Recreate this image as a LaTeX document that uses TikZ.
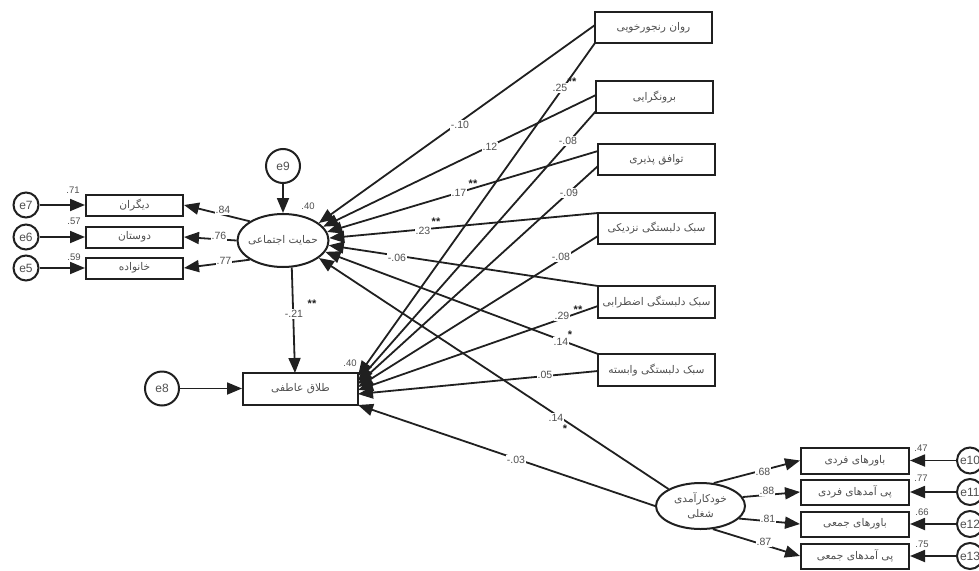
\documentclass[tikz,border=0pt]{standalone}
\usepackage{fontspec}
\setmainfont{Liberation Sans}
\newfontfamily\arfont[Script=Arabic]{DejaVu Sans}
\TeXXeTstate=1
\usetikzlibrary{arrows.meta,shapes.geometric}
\newcommand{\fa}[1]{{\arfont\beginR #1\endR}}
\definecolor{ink}{HTML}{202020}
\definecolor{lab}{HTML}{505050}
\tikzset{
  box/.style={draw=ink,line width=2pt,fill=white,inner sep=0pt,font=\fontsize{10.6}{11}\selectfont,text=lab},
  lv/.style={ellipse,draw=ink,line width=2pt,fill=white,inner sep=0pt,align=center,font=\fontsize{10.6}{15}\selectfont,text=lab},
  err/.style={circle,draw=ink,line width=2pt,fill=white,inner sep=0pt,font=\fontsize{12}{12}\selectfont,text=lab},
  con/.style={draw=ink,line width=1.8pt,-{Triangle[length=15pt,width=12pt]}},
  coef/.style={fill=white,inner sep=1pt,font=\fontsize{10.5}{11}\selectfont,text=lab},
  note/.style={inner sep=0pt,font=\fontsize{9.5}{10}\selectfont,text=lab},
  star/.style={inner sep=0pt,font=\bfseries\fontsize{11}{10}\selectfont,text=ink}
}
\begin{document}
\begin{tikzpicture}[x=1pt,y=-1pt]
\useasboundingbox[fill=white] (0,0) rectangle (979,570);
% nodes
\node[err,minimum size=25pt] (e7) at (26,205) {e7};
\node[err,minimum size=25pt] (e6) at (26,237) {e6};
\node[err,minimum size=25pt] (e5) at (26,268) {e5};
\node[err,minimum size=34pt] (e9) at (283,166) {e9};
\node[err,minimum size=34pt] (e8) at (162,388.5) {e8};
\node[box,minimum width=97pt,minimum height=21pt] (m1) at (134.5,205) {\fa{دیگران}};
\node[box,minimum width=97pt,minimum height=21pt] (m2) at (134.5,237) {\fa{دوستان}};
\node[box,minimum width=97pt,minimum height=21pt] (m3) at (134.5,268) {\fa{خانواده}};
\node[lv,inner xsep=-6pt,minimum width=91pt,minimum height=53pt] (sup) at (283,240.5) {\fa{حمایت اجتماعی}};
\node[box,minimum width=115pt,minimum height=32pt] (div) at (300.5,388.5) {\fa{طلاق عاطفی}};
\node[box,minimum width=117pt,minimum height=31pt] (r1) at (653.5,27.5) {\fa{روان رنجورخویی}};
\node[box,minimum width=117pt,minimum height=32pt] (r2) at (654.5,97) {\fa{برونگرایی}};
\node[box,minimum width=117pt,minimum height=31pt] (r3) at (656.5,159.5) {\fa{توافق پذیری}};
\node[box,minimum width=117pt,minimum height=31pt] (r4) at (656.5,228.5) {\fa{سبک دلبستگی نزدیکی}};
\node[box,minimum width=117pt,minimum height=32pt] (r5) at (656.5,302) {\fa{سبک دلبستگی اضطرابی}};
\node[box,minimum width=117pt,minimum height=32pt] (r6) at (656.5,370) {\fa{سبک دلبستگی وابسته}};
\node[lv,inner xsep=-4pt,minimum width=89pt,minimum height=46pt] (eff) at (700.5,506) {\fa{خودکارآمدی}\\\fa{شغلی}};
\node[box,minimum width=108pt,minimum height=26pt] (b1) at (855,460.5) {\fa{باورهای فردی}};
\node[box,minimum width=108pt,minimum height=25pt] (b2) at (855,492) {\fa{پی آمدهای فردی}};
\node[box,minimum width=108pt,minimum height=25pt] (b3) at (855,524) {\fa{باورهای جمعی}};
\node[box,minimum width=108pt,minimum height=25pt] (b4) at (855,556) {\fa{پی آمدهای جمعی}};
\node[err,minimum size=26pt] (e10) at (970,460.5) {e10};
\node[err,minimum size=26pt] (e11) at (970,492) {e11};
\node[err,minimum size=26pt] (e12) at (970,524) {e12};
\node[err,minimum size=26pt] (e13) at (970,556) {e13};
% arrow targets and starts
\coordinate (t1) at (358,376);
\coordinate (t2) at (358,381);
\coordinate (t3) at (358,384);
\coordinate (t4) at (358,387);
\coordinate (t5) at (358,390);
\coordinate (t6) at (358,394);
\coordinate (t7) at (358,405);
\coordinate (s1) at (595,43);
\coordinate (s2) at (596,111);
\coordinate (s3) at (598,166);
\coordinate (s4) at (598,236);
\coordinate (s5) at (598,306);
\coordinate (s6) at (598,371);
\coordinate (u1) at (595,25);
\coordinate (u2) at (596,95);
\coordinate (u3) at (598,151);
\coordinate (u4) at (598,213);
\coordinate (u5) at (598,286);
\coordinate (u6) at (598,354);
\coordinate (d1) at (295,373);
% connectors
\draw[con] (e7) -- (m1);
\draw[con] (e6) -- (m2);
\draw[con] (e5) -- (m3);
\draw[con] (e9) -- (sup);
\draw[con] (e8) -- (div);
\draw[con] (sup.150) -- (m1.east);
\draw[con] (sup.west) -- (m2.east);
\draw[con] (sup.210) -- (m3.east);
\draw[con] (sup.-72) -- (d1);
\draw[con] (u1) -- (sup.26);
\draw[con] (u2) -- (sup.19);
\draw[con] (u3) -- (sup.11);
\draw[con] (u4) -- (sup.3);
\draw[con] (u5) -- (sup.-6);
\draw[con] (u6) -- (sup.-15);
\draw[con] (eff.152) -- (sup.-26);
\draw[con] (s1) -- (t1);
\draw[con] (s2) -- (t2);
\draw[con] (s3) -- (t3);
\draw[con] (s4) -- (t4);
\draw[con] (s5) -- (t5);
\draw[con] (s6) -- (t6);
\draw[con] (eff.west) -- (t7);
\draw[con] (eff.60) -- (b1.west);
\draw[con] (eff.12) -- (b2.west);
\draw[con] (eff.-18) -- (b3.west);
\draw[con] (eff.-62) -- (b4.west);
\draw[con] (e10) -- (b1);
\draw[con] (e11) -- (b2);
\draw[con] (e12) -- (b3);
\draw[con] (e13) -- (b4);
% coefficient labels
\node[coef] (c1) at (223,210) {.84};
\node[coef] (c2) at (219,236) {.76};
\node[coef] (c3) at (224,261) {.77};
\node[coef] (c4) at (294,314) {-.21};
\node[star] (k4) at (312,304) {**};
\node[coef] (c5) at (460,125) {-.10};
\node[coef] (c6) at (490,147) {.12};
\node[coef] (c7) at (459,193) {.17};
\node[star] (k7) at (473,184) {**};
\node[coef] (c8) at (423,231) {.23};
\node[star] (k8) at (436,222) {**};
\node[coef] (c9) at (397,258) {-.06};
\node[coef] (c10) at (561,342) {.14};
\node[star] (k10) at (570,335) {*};
\node[coef] (c11) at (556,418) {.14};
\node[star] (k11) at (565,429) {*};
\node[coef] (c12) at (560,88) {.25};
\node[star] (k12) at (572,82) {**};
\node[coef] (c13) at (568,141) {-.08};
\node[coef] (c14) at (569,193) {-.09};
\node[coef] (c15) at (561,257) {-.08};
\node[coef] (c16) at (562,316) {.29};
\node[star] (k16) at (578,310) {**};
\node[coef] (c17) at (545,375) {.05};
\node[coef] (c18) at (516,460) {-.03};
\node[coef] (c19) at (763,472) {.68};
\node[coef] (c20) at (767,491) {.88};
\node[coef] (c21) at (768,519) {.81};
\node[coef] (c22) at (764,542) {.87};
% squared multiple correlations
\node[note] (n1) at (73,190) {.71};
\node[note] (n2) at (74,221) {.57};
\node[note] (n3) at (74,257) {.59};
\node[note] (n4) at (308,206) {.40};
\node[note] (n5) at (350,363) {.40};
\node[note] (n6) at (921,448) {.47};
\node[note] (n7) at (921,478) {.77};
\node[note] (n8) at (922,512) {.66};
\node[note] (n9) at (922,544) {.75};
\end{tikzpicture}
\end{document}
